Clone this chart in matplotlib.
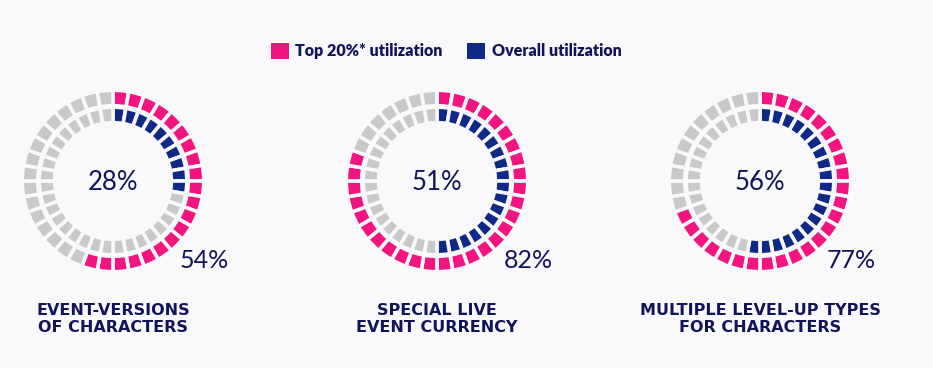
import matplotlib.pyplot as plt
from matplotlib.patches import Patch

# values
titles = ["EVENT-VERSIONS\nOF CHARACTERS",
          "SPECIAL LIVE\nEVENT CURRENCY",
          "MULTIPLE LEVEL-UP TYPES\nFOR CHARACTERS"]
overall_pct = [28, 51, 56]
top20_pct = [54, 82, 77]
# lit segments counted on the rings (36 segments per ring)
overall_lit = [10, 18, 19]
top20_lit = [20, 29, 25]
n_seg = 36

PINK = "#f2157f"
NAVY = "#0e2a86"
GRAY = "#c9c9cb"
TEXT = "#12145a"
BG = "#f9f9fb"

W, H = 933, 368
fig = plt.figure(figsize=(W / 100, H / 100), dpi=100, facecolor=BG)

centers = [113, 437, 760]
cy = 181
half = 90  # axes half size in px

for i, cx in enumerate(centers):
    ax = fig.add_axes([(cx - half) / W, 1 - (cy + half) / H, 2 * half / W, 2 * half / H])
    ax.set_facecolor(BG)
    outer_cols = [PINK if k < top20_lit[i] else GRAY for k in range(n_seg)]
    inner_cols = [NAVY if k < overall_lit[i] else GRAY for k in range(n_seg)]
    wp = dict(width=0.172, edgecolor=BG, linewidth=2.6)
    ax.pie([1] * n_seg, colors=outer_cols, radius=1.008, startangle=90,
           counterclock=False, wedgeprops=wp)
    ax.pie([1] * n_seg, colors=inner_cols, radius=0.82, startangle=90,
           counterclock=False, wedgeprops=wp)
    ax.set_xlim(-1, 1)
    ax.set_ylim(-1, 1)
    ax.axis("off")

    fig.text(cx / W, 1 - 183 / H, f"{overall_pct[i]}%", ha="center", va="center",
             fontsize=18.5, color=TEXT, family="Lato")
    fig.text((cx + 67) / W, 1 - 260 / H, f"{top20_pct[i]}%", ha="left", va="center",
             fontsize=18, color=TEXT, family="Lato")
    fig.text(cx / W, 1 - 319 / H, titles[i], ha="center", va="center",
             fontsize=11.5, color=TEXT, fontweight="bold", linespacing=1.2,
             family="DejaVu Sans")

handles = [Patch(facecolor=PINK, label="Top 20%* utilization"),
           Patch(facecolor=NAVY, label="Overall utilization")]
leg = fig.legend(handles=handles, loc="center", bbox_to_anchor=(446 / W, 1 - 51 / H),
                 ncol=2, frameon=False, handlelength=1.15, handleheight=1.15,
                 handletextpad=0.4, columnspacing=1.5,
                 prop=dict(family="Lato", weight="heavy", size=11.5))
for t in leg.get_texts():
    t.set_color(TEXT)

fig.savefig("out.png", dpi=100, facecolor=BG)
